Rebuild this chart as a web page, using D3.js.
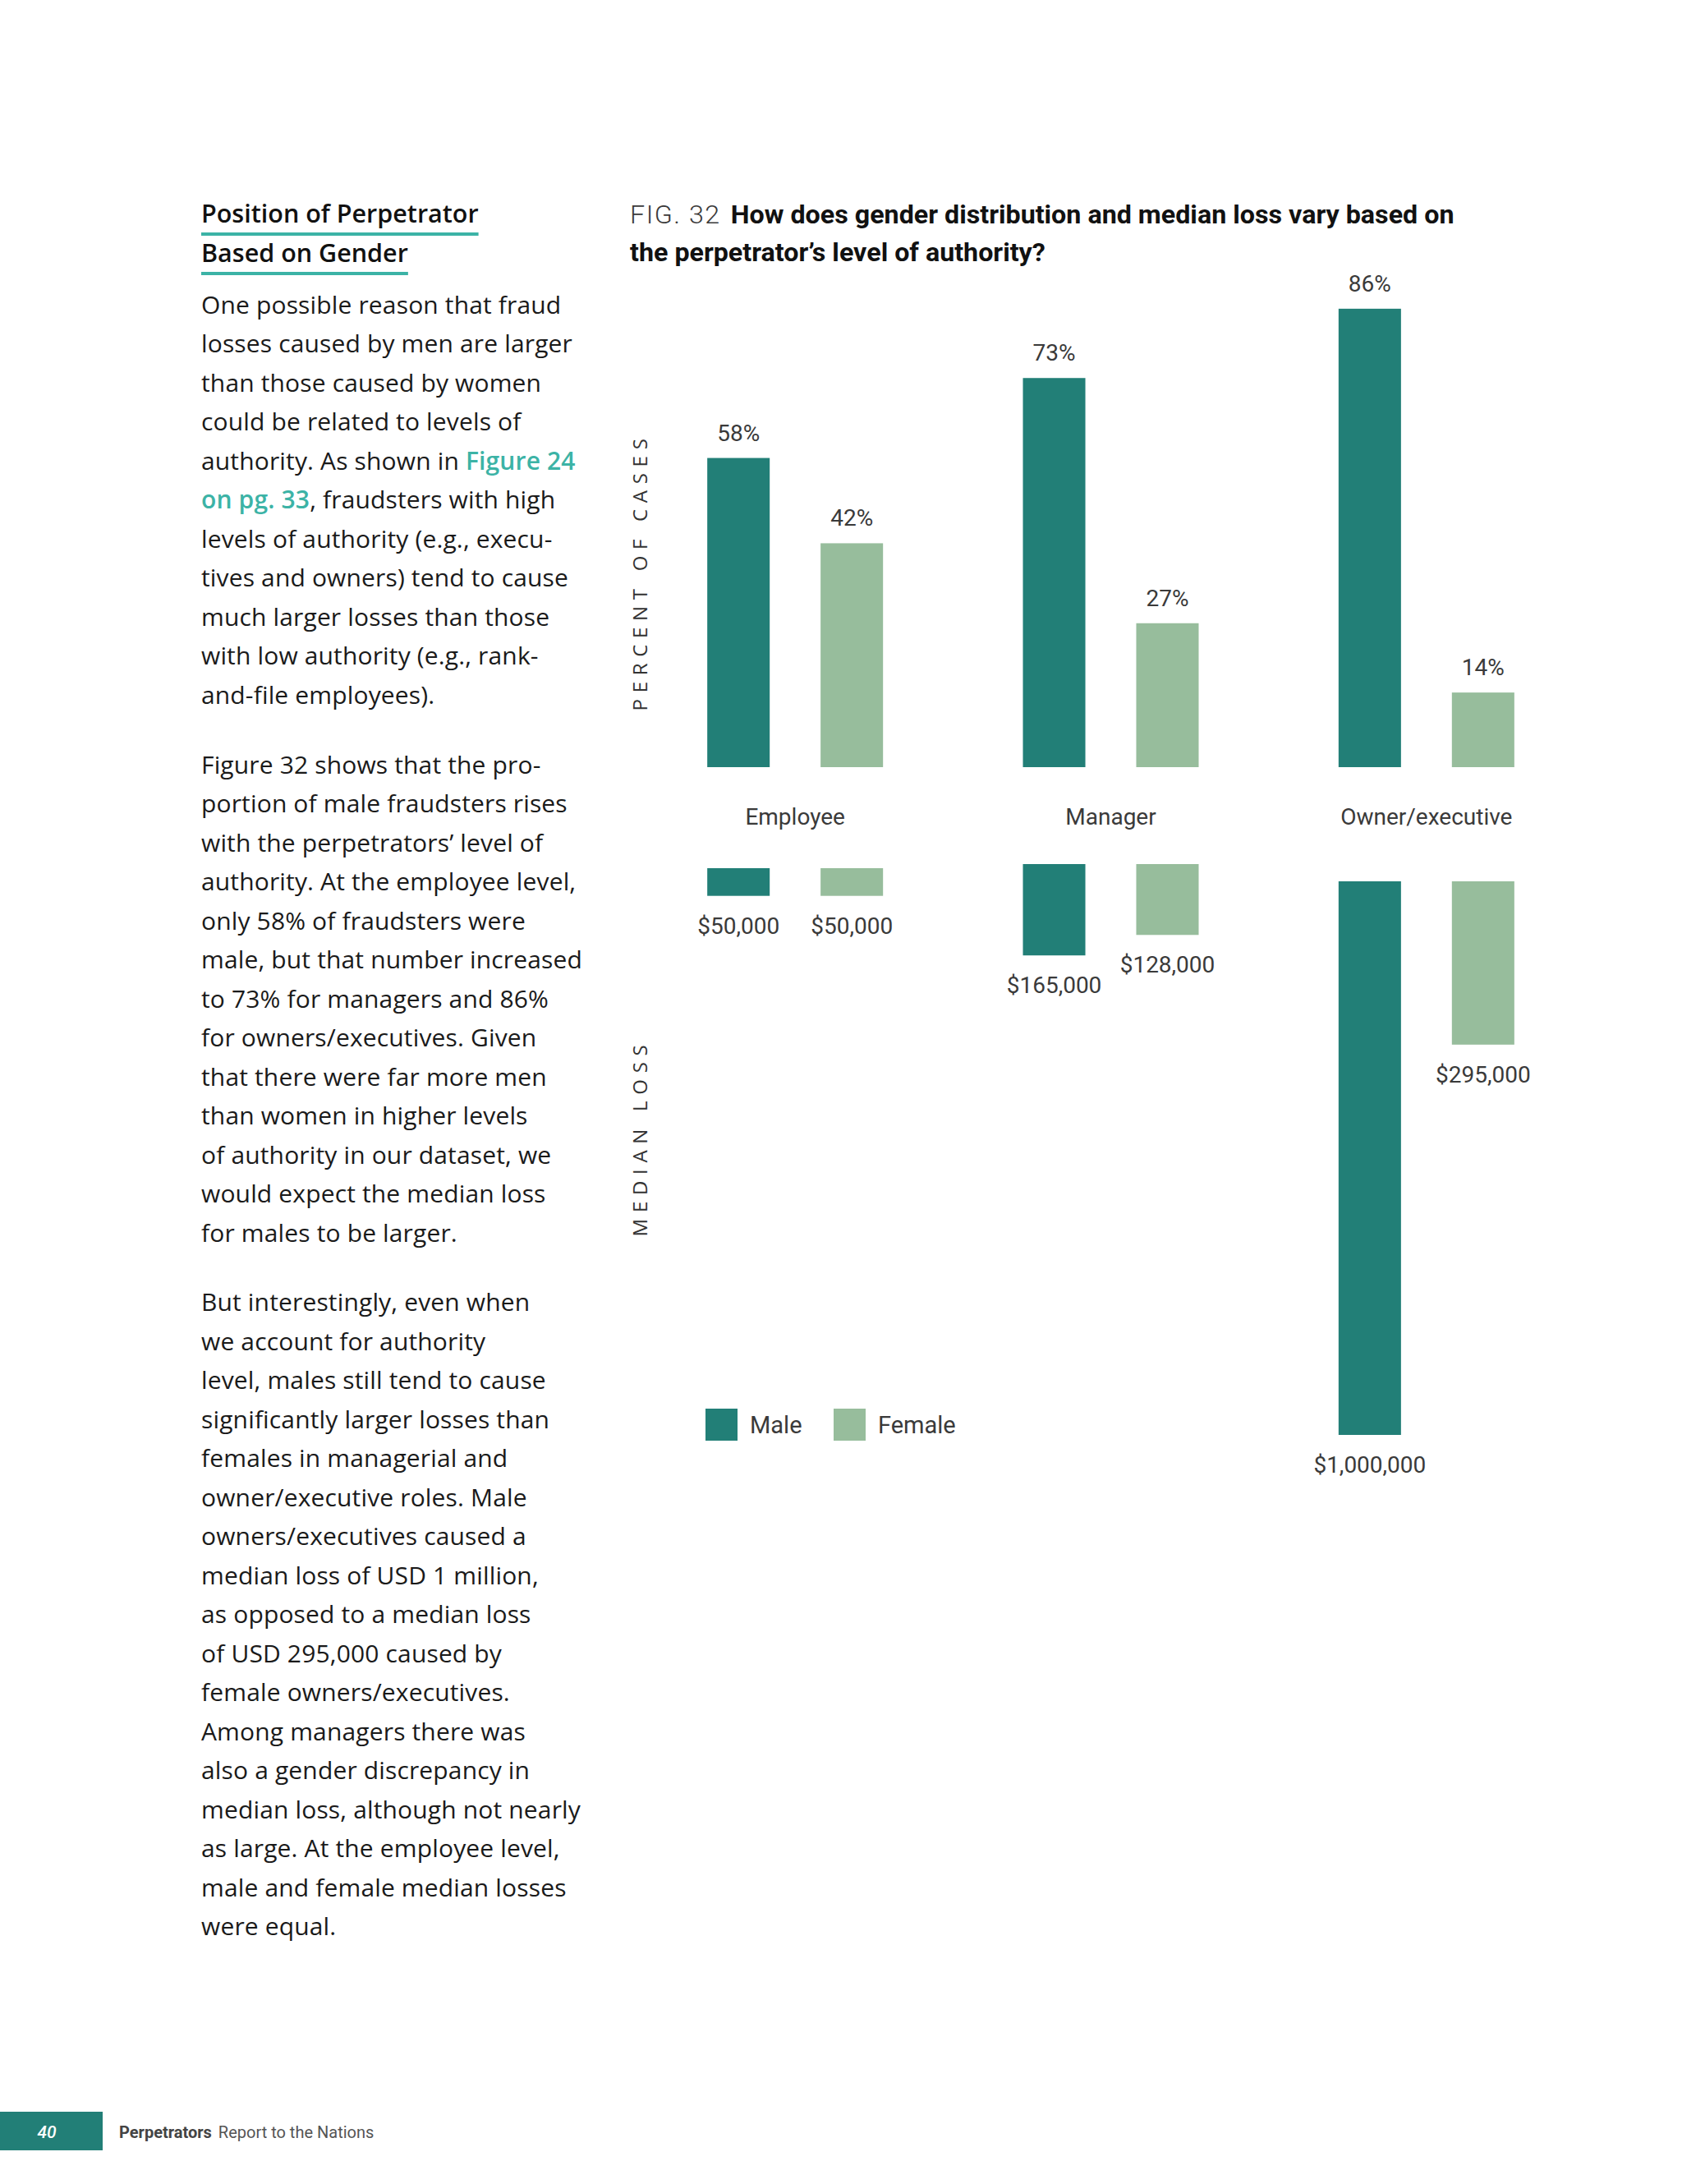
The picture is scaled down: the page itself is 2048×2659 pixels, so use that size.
<!DOCTYPE html>
<html>
<head>
<meta charset="utf-8">
<script src="https://cdn.jsdelivr.net/npm/d3@7"></script>
<style>
  body { margin: 0; background: #ffffff; }
  svg { display: block; }
</style>
</head>
<body>
<div id="wrapper"></div>
<script>
// chart values
const levels = ["Employee", "Manager", "Owner/executive"];
const genders = ["Male", "Female"];
const malePct = [58, 73, 86];
const femalePct = [42, 27, 14];
const maleLoss = [50000, 165000, 1000000];
const femaleLoss = [50000, 128000, 295000];

// side text (brackets mark the teal link text)
const heading = ["Position of Perpetrator", "Based on Gender"];
const para1 = [
    "One possible reason that fraud",
    "losses caused by men are larger",
    "than those caused by women",
    "could be related to levels of",
    "authority. As shown in [Figure 24]",
    "[on pg. 33], fraudsters with high",
    "levels of authority (e.g., execu-",
    "tives and owners) tend to cause",
    "much larger losses than those",
    "with low authority (e.g., rank-",
    "and-file employees)."
];
const para2 = [
    "Figure 32 shows that the pro-",
    "portion of male fraudsters rises",
    "with the perpetrators\u2019 level of",
    "authority. At the employee level,",
    "only 58% of fraudsters were",
    "male, but that number increased",
    "to 73% for managers and 86%",
    "for owners/executives. Given",
    "that there were far more men",
    "than women in higher levels",
    "of authority in our dataset, we",
    "would expect the median loss",
    "for males to be larger."
];
const para3 = [
    "But interestingly, even when",
    "we account for authority",
    "level, males still tend to cause",
    "significantly larger losses than",
    "females in managerial and",
    "owner/executive roles. Male",
    "owners/executives caused a",
    "median loss of USD 1 million,",
    "as opposed to a median loss",
    "of USD 295,000 caused by",
    "female owners/executives.",
    "Among managers there was",
    "also a gender discrepancy in",
    "median loss, although not nearly",
    "as large. At the employee level,",
    "male and female median losses",
    "were equal."
];

let wSvg = 2048;
let hSvg = 2659;

const dark = "#227f77";
const light = "#97bd9c";
const teal = "#3cb3a6";
const labelFont = "Roboto, 'Noto Sans', sans-serif";
const bodyFont = "'Open Sans', 'Noto Sans', sans-serif";

let svg = d3.select("#wrapper")
    .append("svg")
    .attr("width", wSvg)
    .attr("height", hSvg);

svg.append("rect").attr("width", wSvg).attr("height", hSvg).attr("fill", "#ffffff");

// ---------- left column ----------
let left = svg.append("g").attr("font-family", bodyFont);

heading.forEach((t, i) => {
    let txt = left.append("text")
        .attr("x", 245)
        .attr("y", 271 + i * 48)
        .attr("font-size", 30.5)
        .attr("font-weight", 600)
        .attr("fill", "#111")
        .text(t);
    let w = txt.node().getComputedTextLength();
    left.append("rect")
        .attr("x", 245)
        .attr("y", 283 + i * 48)
        .attr("width", w)
        .attr("height", 4)
        .attr("fill", teal);
});

function writePara(lines, y0) {
    lines.forEach((line, i) => {
        let txt = left.append("text")
            .attr("x", 245)
            .attr("y", y0 + i * 47.5)
            .attr("font-size", 30)
            .attr("letter-spacing", 0.15)
            .attr("fill", "#1a1a1a");
        line.split(/(\[[^\]]*\])/).filter(s => s.length).forEach(s => {
            let isLink = s.startsWith("[");
            txt.append("tspan")
                .attr("fill", isLink ? teal : "#1a1a1a")
                .attr("font-weight", isLink ? 600 : 400)
                .text(isLink ? s.slice(1, -1) : s);
        });
    });
}
writePara(para1, 381.6);
writePara(para2, 941.7);
writePara(para3, 1596.4);

// footer
svg.append("rect").attr("x", 0).attr("y", 2571).attr("width", 125).attr("height", 47).attr("fill", dark);
svg.append("text").attr("x", 57).attr("y", 2603).attr("text-anchor", "middle")
    .attr("font-family", labelFont).attr("font-size", 21).attr("font-style", "italic")
    .attr("font-weight", 500).attr("fill", "#fff").text("40");
let foot = svg.append("text").attr("x", 145).attr("y", 2603)
    .attr("font-family", labelFont).attr("font-size", 20).attr("fill", "#555");
foot.append("tspan").attr("font-weight", 700).attr("fill", "#444").text("Perpetrators");
foot.append("tspan").attr("dx", 8).text("Report to the Nations");

// ---------- chart ----------
let chart = svg.append("g").attr("font-family", labelFont);

// title, fitted to the width of the original's first line
let titleG = chart.append("g");
let title1 = titleG.append("text").attr("x", 0).attr("y", 0).attr("font-size", 32);
title1.append("tspan").attr("fill", "#3a3a3a").attr("font-weight", 300)
    .attr("letter-spacing", 1.5).text("FIG. 32");
title1.append("tspan").attr("dx", 12).attr("font-weight", 700).attr("fill", "#111")
    .text("How does gender distribution and median loss vary based on");
titleG.append("text").attr("x", 0).attr("y", 46).attr("font-size", 32)
    .attr("font-weight", 700).attr("fill", "#111")
    .text("the perpetrator\u2019s level of authority?");
let tw = title1.node().getBBox().width;
let tScale = (1771 - 767) / tw;
titleG.attr("transform", `translate(767,272) scale(${tScale},1)`);

// axis titles
function sideLabel(t, cy) {
    chart.append("text")
        .attr("transform", `translate(788,${cy}) rotate(-90)`)
        .attr("text-anchor", "middle")
        .attr("font-family", bodyFont)
        .attr("font-size", 24)
        .attr("letter-spacing", 7.7)
        .attr("fill", "#333")
        .text(t);
}
sideLabel("PERCENT OF CASES", 696);
sideLabel("MEDIAN LOSS", 1385);

let xLevel = d3.scaleBand()
    .domain(levels)
    .range([776, 1929]);

let xGender = d3.scaleBand()
    .domain(genders)
    .range([-107, 107])
    .paddingInner(0.449);

let yPct = d3.scaleLinear().domain([0, 100]).range([934, 285]);
let hLoss = d3.scaleLinear().domain([0, 1000000]).range([0, 674]);
// top edge of the hanging loss bars, per level
const lossTop = [1057, 1052, 1073];

let colour = d3.scaleOrdinal().domain(genders).range([dark, light]);
let fmtMoney = d3.format("$,");

let rows = [];
levels.forEach((lv, i) => {
    rows.push({ level: lv, li: i, gender: "Male", pct: malePct[i], loss: maleLoss[i] });
    rows.push({ level: lv, li: i, gender: "Female", pct: femalePct[i], loss: femaleLoss[i] });
});

let groups = chart.selectAll("g.level")
    .data(levels)
    .join("g")
    .attr("class", "level")
    .attr("transform", d => `translate(${xLevel(d) + xLevel.bandwidth() / 2},0)`);

groups.append("text")
    .attr("x", 0)
    .attr("y", 1004)
    .attr("text-anchor", "middle")
    .attr("font-size", 28)
    .attr("fill", "#3a3a3a")
    .text(d => d);

let bars = chart.selectAll("g.bar")
    .data(rows)
    .join("g")
    .attr("class", "bar")
    .attr("transform", d => `translate(${xLevel(d.level) + xLevel.bandwidth() / 2 + xGender(d.gender)},0)`);

// percent of cases
bars.append("rect")
    .attr("x", 0)
    .attr("width", xGender.bandwidth())
    .attr("y", d => yPct(d.pct))
    .attr("height", d => yPct(0) - yPct(d.pct))
    .attr("fill", d => colour(d.gender));

bars.append("text")
    .attr("x", xGender.bandwidth() / 2)
    .attr("y", d => yPct(d.pct) - 21)
    .attr("text-anchor", "middle")
    .attr("font-size", 28)
    .attr("fill", "#3a3a3a")
    .text(d => d.pct + "%");

// median loss (bars hang down)
bars.append("rect")
    .attr("x", 0)
    .attr("width", xGender.bandwidth())
    .attr("y", d => lossTop[d.li])
    .attr("height", d => hLoss(d.loss))
    .attr("fill", d => colour(d.gender));

bars.append("text")
    .attr("x", xGender.bandwidth() / 2)
    .attr("y", d => lossTop[d.li] + hLoss(d.loss) + 46)
    .attr("text-anchor", "middle")
    .attr("font-size", 28)
    .attr("fill", "#3a3a3a")
    .text(d => fmtMoney(d.loss));

// legend
let legend = chart.selectAll("g.legend")
    .data(genders)
    .join("g")
    .attr("class", "legend")
    .attr("transform", (d, i) => `translate(${859 + i * 156},1715)`);

legend.append("rect")
    .attr("width", 39)
    .attr("height", 39)
    .attr("fill", d => colour(d));

legend.append("text")
    .attr("x", 54)
    .attr("y", 30)
    .attr("font-size", 29)
    .attr("fill", "#3a3a3a")
    .text(d => d);
</script>
</body>
</html>
